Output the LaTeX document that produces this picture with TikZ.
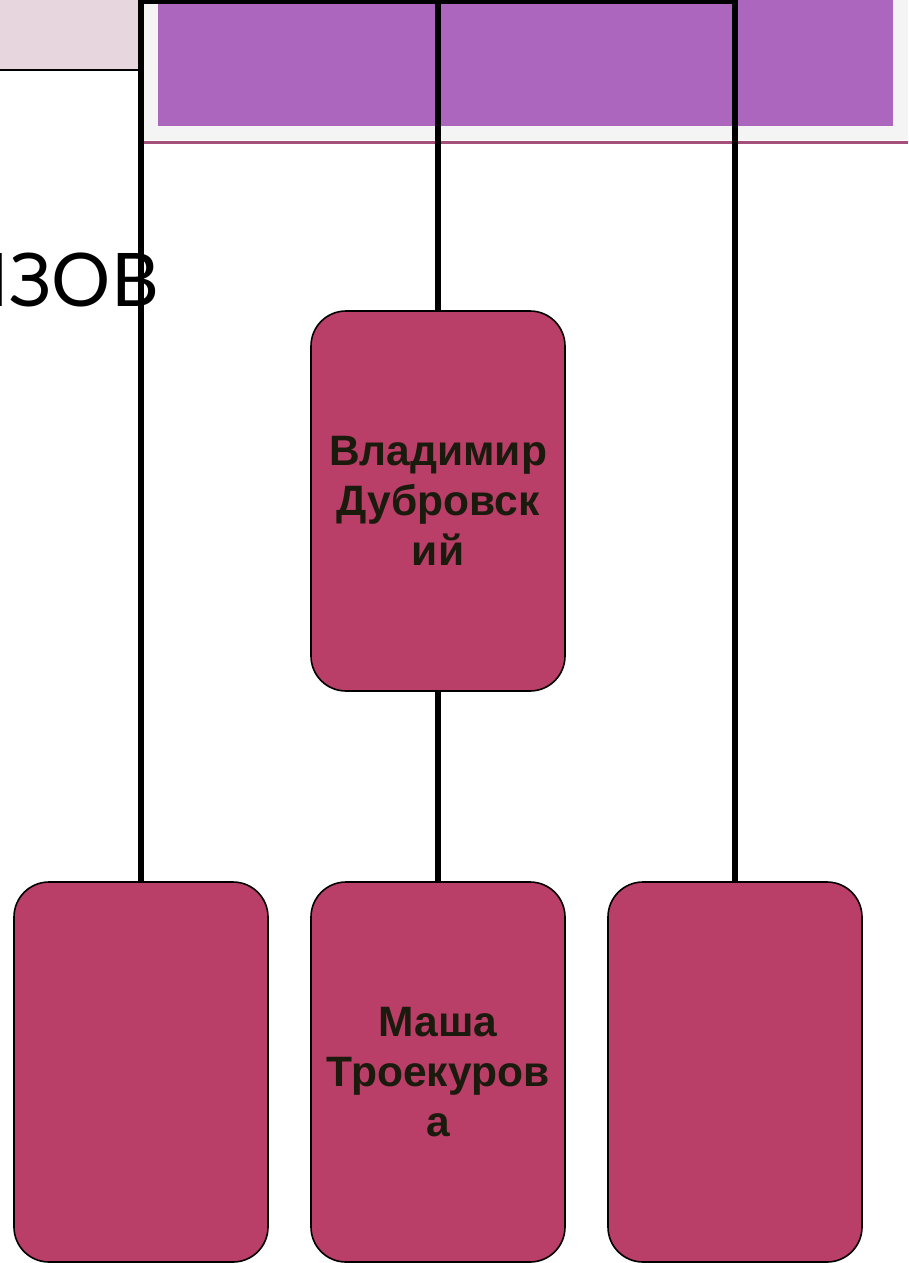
\documentclass[tikz,border=0pt]{standalone}
\usepackage{fontspec}
\setmainfont{Liberation Sans}
\newfontfamily\titlefont{Lato}
\definecolor{pinkbg}{HTML}{E8D6DF}
\definecolor{graybg}{HTML}{F4F4F4}
\definecolor{purp}{HTML}{AC66BE}
\definecolor{maroonline}{HTML}{A5507A}
\definecolor{boxfill}{HTML}{B93E68}
\definecolor{boxtext}{HTML}{1A1A0D}
\tikzset{
  orgbox/.style={draw=black, line width=1.6pt, fill=boxfill, rounded corners=35pt,
    minimum width=254pt, minimum height=380pt, inner sep=0pt, align=center,
    text=boxtext, font=\fontsize{42.5}{50}\selectfont\bfseries},
  conn/.style={draw=black, line width=5.8pt, line join=miter},
  titletext/.style={font=\titlefont\fontsize{74}{80}\selectfont, text=black, inner sep=0pt}
}
\begin{document}
\begin{tikzpicture}[x=1pt,y=-1pt]
\useasboundingbox (0,0) rectangle (908,1263);
\clip (0,0) rectangle (908,1263);
% background decorations
\fill[pinkbg] (0,0) rectangle (138,69);
\draw[line width=2.2pt] (0,70) -- (139,70);
\fill[graybg] (144,0) rectangle (908,140);
\fill[purp] (158,0) rectangle (893,126);
\draw[maroonline, line width=3pt] (144,142) -- (908,142);
\node[titletext, anchor=base east] (title) at (159,306) {ИЗОВ};
% boxes
\node[orgbox] (V) at (438,501) {Владимир\\Дубровск\\ий};
\node[orgbox] (L) at (141,1072) {};
\node[orgbox] (M) at (438,1072) {Маша\\Троекуров\\а};
\node[orgbox] (R) at (735,1072) {};
% connectors
\coordinate (tl) at (141,1);
\coordinate (tr) at (735,1);
\coordinate (tm) at (438,1);
\draw[conn] (L.north) -- (tl) -- (tr) -- (R.north);
\draw[conn] (tm) -- (V.north);
\draw[conn] (V.south) -- (M.north);
\end{tikzpicture}
\end{document}
